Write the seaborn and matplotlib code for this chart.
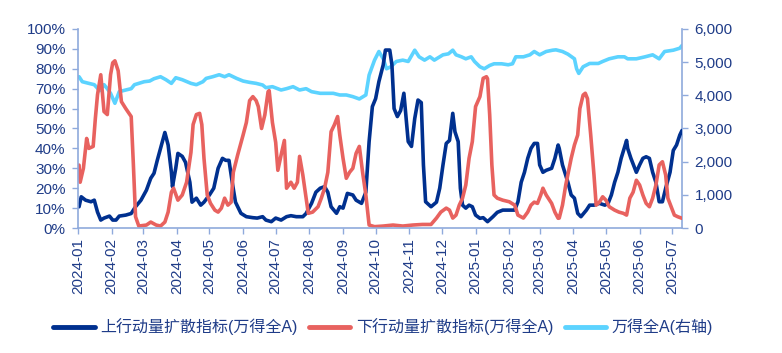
import matplotlib
matplotlib.use('Agg')
import matplotlib.pyplot as plt
import matplotlib.dates as mdates
from matplotlib.ticker import PercentFormatter, FuncFormatter, MultipleLocator
from matplotlib.lines import Line2D
import pandas as pd
import seaborn as sns

# 上行动量扩散指标 (%)
up_dates = ['2024-01-02','2024-01-04','2024-01-08','2024-01-13','2024-01-16','2024-01-19','2024-01-22','2024-01-25','2024-01-30',
            '2024-02-02','2024-02-05','2024-02-08','2024-02-14','2024-02-19','2024-02-23','2024-02-28',
            '2024-03-04','2024-03-08','2024-03-11','2024-03-14','2024-03-17','2024-03-21','2024-03-24','2024-03-27','2024-03-28','2024-03-31',
            '2024-04-02','2024-04-06','2024-04-09','2024-04-13','2024-04-15','2024-04-19','2024-04-23','2024-04-26',
            '2024-05-01','2024-05-05','2024-05-09','2024-05-13','2024-05-16','2024-05-19','2024-05-22','2024-05-25','2024-05-30',
            '2024-06-04','2024-06-10','2024-06-14','2024-06-19','2024-06-22','2024-06-27',
            '2024-07-01','2024-07-06','2024-07-11','2024-07-15','2024-07-20','2024-07-26','2024-07-29',
            '2024-08-03','2024-08-07','2024-08-11','2024-08-15','2024-08-18','2024-08-21','2024-08-26','2024-08-29',
            '2024-09-01','2024-09-05','2024-09-10','2024-09-13','2024-09-18','2024-09-22','2024-09-25','2024-09-28',
            '2024-10-01','2024-10-04','2024-10-08','2024-10-10','2024-10-14','2024-10-16','2024-10-18','2024-10-21','2024-10-24','2024-10-27','2024-10-31',
            '2024-11-03','2024-11-06','2024-11-09','2024-11-12','2024-11-14','2024-11-16','2024-11-21','2024-11-26','2024-11-29',
            '2024-12-02','2024-12-05','2024-12-08','2024-12-11','2024-12-13','2024-12-16','2024-12-18','2024-12-20','2024-12-23','2024-12-26','2024-12-29',
            '2025-01-01','2025-01-05','2025-01-08','2025-01-12','2025-01-17','2025-01-21','2025-01-26',
            '2025-02-01','2025-02-06','2025-02-09','2025-02-12','2025-02-15','2025-02-18','2025-02-21','2025-02-24','2025-02-27',
            '2025-03-01','2025-03-04','2025-03-07','2025-03-12','2025-03-15','2025-03-18','2025-03-19','2025-03-22','2025-03-27','2025-03-30',
            '2025-04-02','2025-04-05','2025-04-08','2025-04-13','2025-04-16','2025-04-20','2025-04-25','2025-04-30',
            '2025-05-03','2025-05-06','2025-05-09','2025-05-12','2025-05-15','2025-05-20','2025-05-21','2025-05-24','2025-05-29',
            '2025-06-01','2025-06-04','2025-06-07','2025-06-10','2025-06-13','2025-06-16','2025-06-19','2025-06-22','2025-06-25','2025-06-29',
            '2025-07-02','2025-07-05','2025-07-08','2025-07-10']
up_vals = [10.7,15.7,14,13.2,14,8,4,5,6,
           4,4,6,6.5,7.3,10.7,14,
           19,25,27.5,34,40,48,41.7,28,20.8,30,
           37.5,36,33,23,13,15,11.5,13,
           16.6,20,30,35,34,34,23,13,7.4,
           5.7,5.2,5,5.7,4,3.2,
           5,4,5.7,6.2,5.7,5.7,7.3,
           12.4,18,20,20.8,18,10.7,7.4,10.7,
           10,17.4,16.6,14,12.4,18,43.4,61,
           65,73.5,82,89.4,89.4,82,60,56,59,67.7,43.4,
           41,55,64.3,63,31.7,13.2,10.7,13,20,
           31.7,42.5,44,57.6,48.4,43.4,20,11.5,10,11.5,10.7,
           6.5,4.9,5.2,3.2,5.7,7.9,9,
           9,9,13.2,23,28,35,40,42.5,42.5,
           31.7,28,29,30,35,41.7,40,31.7,23,16.6,
           15,7.4,5.7,9,11.5,11.5,12.4,11.5,
           12.4,16.6,23,28,35,44,40,35,28,
           31.7,35,35.8,35,28,23,13.2,13.2,20,28,
           39,41.7,46.7,49]

# 下行动量扩散指标 (%)
down_dates = ['2024-01-02','2024-01-03','2024-01-06','2024-01-09','2024-01-11','2024-01-15','2024-01-17','2024-01-19','2024-01-22','2024-01-25','2024-01-28','2024-01-31',
              '2024-02-02','2024-02-04','2024-02-07','2024-02-10','2024-02-14','2024-02-19','2024-02-21','2024-02-23','2024-02-26',
              '2024-03-04','2024-03-08','2024-03-13','2024-03-17','2024-03-21','2024-03-24','2024-03-27','2024-03-29',
              '2024-04-02','2024-04-06','2024-04-10','2024-04-14','2024-04-16','2024-04-19','2024-04-22','2024-04-24','2024-04-26','2024-04-29',
              '2024-05-02','2024-05-06','2024-05-09','2024-05-12','2024-05-15','2024-05-18','2024-05-21','2024-05-23','2024-05-27',
              '2024-06-01','2024-06-04','2024-06-07','2024-06-10','2024-06-13','2024-06-15','2024-06-18','2024-06-21','2024-06-24','2024-06-25','2024-06-28',
              '2024-07-01','2024-07-03','2024-07-06','2024-07-09','2024-07-11','2024-07-15','2024-07-18','2024-07-21','2024-07-23','2024-07-26','2024-07-29','2024-07-31',
              '2024-08-04','2024-08-09','2024-08-12','2024-08-15','2024-08-18','2024-08-21','2024-08-24','2024-08-27','2024-08-29',
              '2024-09-01','2024-09-04','2024-09-07','2024-09-10','2024-09-13','2024-09-16','2024-09-19','2024-09-22','2024-09-25','2024-09-30',
              '2024-10-08','2024-10-17','2024-10-26',
              '2024-11-04','2024-11-13','2024-11-21','2024-11-26','2024-11-30',
              '2024-12-05','2024-12-08','2024-12-11','2024-12-14','2024-12-17','2024-12-20','2024-12-23','2024-12-26','2024-12-29',
              '2025-01-01','2025-01-05','2025-01-08','2025-01-11','2025-01-12','2025-01-14','2025-01-16','2025-01-18','2025-01-21','2025-01-26',
              '2025-02-01','2025-02-06','2025-02-09','2025-02-14','2025-02-18','2025-02-21','2025-02-24','2025-02-27',
              '2025-03-02','2025-03-04','2025-03-07','2025-03-12','2025-03-15','2025-03-18','2025-03-19','2025-03-22','2025-03-25','2025-03-30',
              '2025-04-02','2025-04-05','2025-04-07','2025-04-10','2025-04-12','2025-04-14','2025-04-17','2025-04-20','2025-04-22','2025-04-25','2025-04-28',
              '2025-05-01','2025-05-04','2025-05-09','2025-05-13','2025-05-17','2025-05-20','2025-05-23','2025-05-26','2025-05-29',
              '2025-06-01','2025-06-04','2025-06-07','2025-06-10','2025-06-13','2025-06-16','2025-06-19','2025-06-22','2025-06-25','2025-06-27','2025-06-30',
              '2025-07-03','2025-07-06','2025-07-10']
down_vals = [31.6,23,30,45,40,41,55,67,77,58.5,57,77,
             83,84,79,63.5,60,56,32,5.7,1,
             1.5,3,1.5,1,3,8,18,20,
             14,16.6,23,38,52,57,57.6,52,35,16.6,
             12.4,9,8,10,15,11.5,13,28,36.7,
             46.7,53,64,66,64,61,50,56.8,68.5,69,53,
             43,29,36.7,44,20,23,20,23,36,26.6,15,7.4,
             8,10.7,15,20,28,48.4,51.8,56,46.7,
             35,25,28,30,37.5,41,28,16.6,1.5,0.7,
             1,1.5,1,
             1.5,1.8,1.8,5,8,
             10,9,5,6.5,11.5,15,21.6,35,43.4,
             61,66,75.2,76,75,56.8,31.7,16.6,15,14,
             13.2,11.5,6.5,5,8,11.5,13,12.4,
             16.6,20,16.6,12.4,8,4.9,5,11.5,21.6,35,
             41.7,46.7,60,66.8,67.7,65,46.7,26.6,11.5,13,15.7,
             14,10.7,9,8,7.4,6.5,15,18,24,
             21.6,16.6,12.4,10.7,15,21.6,31.7,33.3,26.6,15,10.7,
             6.5,5.7,4.9]

# 万得全A (右轴)
wind_dates = ['2024-01-02','2024-01-05','2024-01-11','2024-01-16','2024-01-21','2024-01-25','2024-01-28','2024-01-31',
              '2024-02-04','2024-02-08','2024-02-14','2024-02-19','2024-02-22','2024-02-26',
              '2024-03-02','2024-03-07','2024-03-11','2024-03-17','2024-03-22','2024-03-27','2024-03-31',
              '2024-04-06','2024-04-14','2024-04-19','2024-04-25','2024-04-28',
              '2024-05-04','2024-05-10','2024-05-15','2024-05-19','2024-05-26',
              '2024-06-01','2024-06-07','2024-06-13','2024-06-19','2024-06-22','2024-06-28',
              '2024-07-06','2024-07-11','2024-07-17','2024-07-23','2024-07-29',
              '2024-08-03','2024-08-11','2024-08-16','2024-08-23','2024-08-29',
              '2024-09-04','2024-09-10','2024-09-16','2024-09-22','2024-09-25','2024-09-30',
              '2024-10-04','2024-10-08','2024-10-11','2024-10-15','2024-10-20','2024-10-26','2024-10-31',
              '2024-11-06','2024-11-10','2024-11-15','2024-11-20','2024-11-24',
              '2024-12-02','2024-12-07','2024-12-11','2024-12-14','2024-12-19','2024-12-23','2024-12-28','2024-12-31',
              '2025-01-05','2025-01-09','2025-01-14','2025-01-18','2025-01-25','2025-01-31',
              '2025-02-04','2025-02-07','2025-02-14','2025-02-20','2025-02-24',
              '2025-03-01','2025-03-07','2025-03-13','2025-03-16','2025-03-22','2025-03-27',
              '2025-04-02','2025-04-04','2025-04-06','2025-04-10','2025-04-16','2025-04-24','2025-04-28',
              '2025-05-04','2025-05-12','2025-05-18','2025-05-21','2025-05-29',
              '2025-06-06','2025-06-13','2025-06-19','2025-06-24',
              '2025-07-02','2025-07-08','2025-07-10']
wind_vals = [4560,4410,4360,4320,4140,4320,4200,4060,
             3760,4110,4160,4200,4320,4360,
             4410,4430,4500,4560,4470,4360,4530,
             4470,4360,4320,4410,4510,
             4560,4620,4560,4620,4510,
             4430,4390,4360,4310,4230,4260,
             4160,4200,4260,4160,4200,
             4110,4060,4060,4060,4010,
             4010,3960,3890,4010,4610,5060,
             5320,5100,4800,4860,5020,5060,5020,
             5360,5160,5060,5160,5060,
             5220,5250,5360,5220,5160,5100,5160,5020,
             4860,4800,4900,4950,4950,4920,
             4950,5160,5160,5220,5320,
             5220,5320,5360,5370,5320,5240,
             5100,4800,4660,4860,4960,4960,5020,
             5100,5160,5160,5100,5100,
             5160,5220,5100,5320,
             5360,5420,5500]

legend_labels = ['上行动量扩散指标(万得全A)', '下行动量扩散指标(万得全A)', '万得全A(右轴)']

navy = '#00308F'
red = '#E8625F'
sky = '#5CD3FF'
axis_col = '#8FAADC'
text_col = '#1F3C88'

sns.set_theme(style='white')
plt.rcParams['font.family'] = ['Liberation Sans', 'Noto Sans CJK SC', 'DejaVu Sans']

fig = plt.figure(figsize=(7.82, 3.53), dpi=100)
ax = fig.add_axes([0.0997, 0.354, 0.7724, 0.564])
ax2 = ax.twinx()

sns.lineplot(x=pd.to_datetime(wind_dates), y=wind_vals, ax=ax2, color=sky, linewidth=2.6)
sns.lineplot(x=pd.to_datetime(up_dates), y=up_vals, ax=ax, color=navy, linewidth=2.6)
sns.lineplot(x=pd.to_datetime(down_dates), y=down_vals, ax=ax, color=red, linewidth=2.6)

ax.set_zorder(ax2.get_zorder() + 1)
ax.patch.set_visible(False)

ax.set_xlim(pd.Timestamp('2024-01-01'), pd.Timestamp('2025-07-10'))
ax.set_ylim(0, 100)
ax2.set_ylim(0, 6000)
ax.yaxis.set_major_locator(MultipleLocator(10))
ax.yaxis.set_major_formatter(PercentFormatter(100, decimals=0))
ax2.yaxis.set_major_locator(MultipleLocator(1000))
ax2.yaxis.set_major_formatter(FuncFormatter(lambda v, p: f'{v:,.0f}'))
ax.xaxis.set_major_locator(mdates.MonthLocator())
ax.xaxis.set_major_formatter(mdates.DateFormatter('%Y-%m'))
ax.set_xlabel('')
ax.set_ylabel('')
ax2.set_ylabel('')

for s in ['top', 'right']:
    ax.spines[s].set_visible(False)
for s in ['top', 'left', 'bottom']:
    ax2.spines[s].set_visible(False)
for s in ['left', 'bottom']:
    ax.spines[s].set_color(axis_col)
    ax.spines[s].set_linewidth(1.2)
ax2.spines['right'].set_color(axis_col)
ax2.spines['right'].set_linewidth(1.2)

ax.tick_params(axis='x', bottom=True, direction='out', length=4, width=1, color=axis_col,
               labelcolor=text_col, labelsize=11, rotation=90, pad=3)
ax.tick_params(axis='y', left=True, direction='out', length=4, width=1, color=axis_col,
               labelcolor=text_col, labelsize=11, pad=5)
ax2.tick_params(axis='y', right=True, direction='out', length=4, width=1, color=axis_col,
                labelcolor=text_col, labelsize=11, pad=5)
ax.grid(False)
ax2.grid(False)

handles = [Line2D([], [], color=c, linewidth=3.5) for c in [navy, red, sky]]
leg = fig.legend(handles, legend_labels, loc='center', bbox_to_anchor=(0.49, 0.074), ncol=3,
                 frameon=False, fontsize=11.5, handlelength=2.6, handletextpad=0.35, columnspacing=0.7)
for t in leg.get_texts():
    t.set_color(text_col)

fig.savefig('out.png', dpi=100)
